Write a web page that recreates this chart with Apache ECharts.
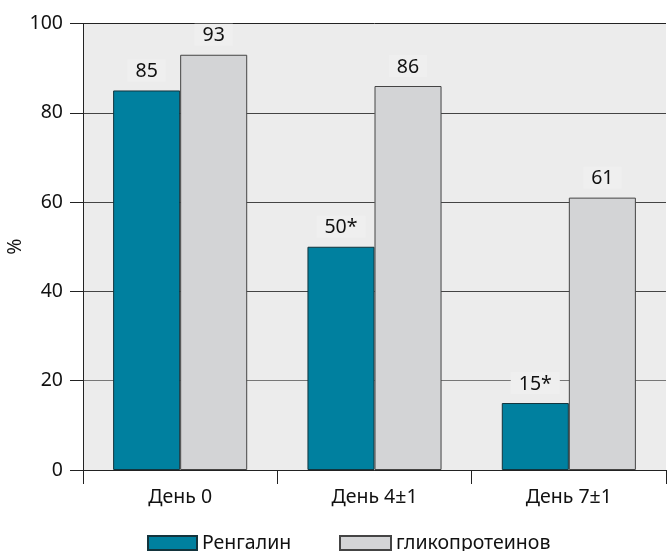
<!DOCTYPE html>
<html><head><meta charset="utf-8">
<script src="https://cdn.jsdelivr.net/npm/echarts@6/dist/echarts.min.js"></script>
<style>html,body{margin:0;padding:0;background:#fff}#c{width:667px;height:551px}</style>
</head><body><div id="c"></div>
<script>
const categories = ['День 0', 'День 4±1', 'День 7±1'];
const seriesNames = ['Ренгалин', 'гликопротеинов'];
const rengalin = [85, 50, 15];
const glyco = [93, 86, 61];
const rengalinLabels = ['85', '50*', '15*'];
const glycoLabels = ['93', '86', '61'];
const yTicks = [0, 20, 40, 60, 80, 100];

const FONT = 'Noto Sans';
const FS = 19.5;
const chart = echarts.init(document.getElementById('c'), null, {renderer: 'canvas'});
function lbl(arr) {
  return {
    show: true, position: 'top', distance: 9,
    color: '#111', fontSize: FS, fontFamily: FONT,
    backgroundColor: '#efefef', padding: [2, 8, 0, 8],
    formatter: p => arr[p.dataIndex]
  };
}
const legendText = {fontSize: FS, color: '#111', fontFamily: FONT};
chart.setOption({
  animation: false,
  textStyle: {fontFamily: FONT},
  grid: {left: 83, right: 1, top: 23.5, bottom: 81, show: true, backgroundColor: '#ececec', borderWidth: 0, containLabel: false, outerBoundsMode: 'none'},
  legend: [
    {left: 147, top: 533, padding: 0, itemWidth: 49, itemHeight: 14, icon: 'rect', itemGap: 0,
     textStyle: legendText, data: [seriesNames[0]]},
    {left: 339, top: 533, padding: 0, itemWidth: 51, itemHeight: 14, icon: 'rect', itemGap: 0,
     textStyle: legendText, data: [seriesNames[1]]}
  ],
  xAxis: {
    type: 'category', data: categories,
    axisLine: {lineStyle: {color: '#222', width: 1}},
    axisTick: {show: true, length: 14, lineStyle: {color: '#222'}},
    axisLabel: {fontSize: FS, color: '#111', margin: 17, fontFamily: FONT},
    z: 10
  },
  yAxis: {
    type: 'value', min: yTicks[0], max: yTicks[yTicks.length - 1], interval: 20,
    name: '%', nameLocation: 'middle', nameRotate: 90, nameGap: 58, nameMoveOverlap: false,
    nameTextStyle: {fontSize: FS, color: '#111', fontFamily: FONT},
    axisLine: {show: true, lineStyle: {color: '#222', width: 1}},
    axisTick: {show: true, length: 13, lineStyle: {color: '#222'}},
    axisLabel: {fontSize: FS, color: '#111', margin: 20, fontFamily: FONT},
    splitLine: {show: true, lineStyle: {color: ['#444', '#777', '#444', '#444', '#444', '#222'], width: 1}}
  },
  series: [
    {
      name: seriesNames[0], type: 'bar', data: rengalin,
      barGap: '0%', barCategoryGap: '31%',
      itemStyle: {color: '#00809f', borderColor: '#13343d', borderWidth: 1},
      label: lbl(rengalinLabels)
    },
    {
      name: seriesNames[1], type: 'bar', data: glyco,
      itemStyle: {color: '#d3d4d6', borderColor: '#444', borderWidth: 1},
      label: lbl(glycoLabels)
    }
  ]
});
</script></body></html>
